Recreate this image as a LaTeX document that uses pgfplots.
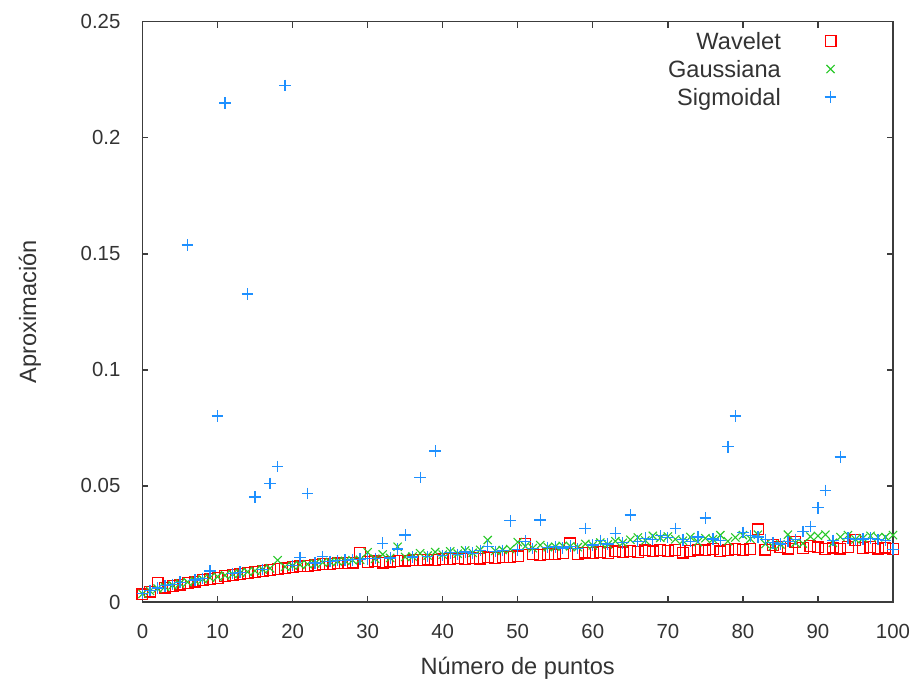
\documentclass[border=0pt]{standalone}
\usepackage{pgfplots}
\usepackage{pgfplotstable}
\pgfplotsset{compat=1.18}
\usepackage{fontspec}
\setmainfont{Liberation Sans}

\definecolor{gpred}{RGB}{255,0,0}
\definecolor{gpgreen}{RGB}{40,200,40}
\definecolor{gpblue}{RGB}{30,144,255}
\definecolor{gpaxis}{RGB}{60,60,60}

% x  Wavelet  Gaussiana  Sigmoidal
\pgfplotstableread{
x W G S
0 0.0033 0.0035 0.0036
1 0.0045 0.0048 0.0050
2 0.0081 0.0058 0.0060
3 0.0062 0.0065 0.0070
4 0.0068 0.0072 0.0076
5 0.0075 0.0080 0.0085
6 0.0082 0.0086 0.1538
7 0.0088 0.0092 0.0095
8 0.0094 0.0098 0.0102
9 0.0099 0.0104 0.0134
10 0.0104 0.0109 0.0801
11 0.0112 0.0115 0.2150
12 0.0116 0.0120 0.0122
13 0.0121 0.0125 0.0128
14 0.0126 0.0130 0.1327
15 0.0130 0.0134 0.0452
16 0.0133 0.0140 0.0140
17 0.0138 0.0145 0.0511
18 0.0142 0.0180 0.0583
19 0.0145 0.0152 0.2225
20 0.0150 0.0156 0.0158
21 0.0153 0.0160 0.0192
22 0.0156 0.0163 0.0468
23 0.0160 0.0166 0.0168
24 0.0163 0.0170 0.0195
25 0.0163 0.0172 0.0175
26 0.0166 0.0175 0.0178
27 0.0168 0.0177 0.0180
28 0.0170 0.0180 0.0182
29 0.0212 0.0182 0.0184
30 0.0172 0.0214 0.0186
31 0.0175 0.0186 0.0188
32 0.0170 0.0205 0.0253
33 0.0174 0.0190 0.0190
34 0.0176 0.0238 0.0228
35 0.0178 0.0194 0.0289
36 0.0180 0.0196 0.0194
37 0.0181 0.0210 0.0537
38 0.0183 0.0200 0.0196
39 0.0180 0.0215 0.0650
40 0.0186 0.0204 0.0200
41 0.0184 0.0218 0.0212
42 0.0188 0.0208 0.0205
43 0.0185 0.0222 0.0215
44 0.0190 0.0212 0.0210
45 0.0187 0.0225 0.0222
46 0.0192 0.0267 0.0240
47 0.0190 0.0220 0.0218
48 0.0195 0.0224 0.0222
49 0.0193 0.0228 0.0350
50 0.0196 0.0258 0.0225
51 0.0250 0.0240 0.0262
52 0.0205 0.0232 0.0230
53 0.0203 0.0245 0.0353
54 0.0207 0.0236 0.0235
55 0.0205 0.0238 0.0238
56 0.0210 0.0242 0.0232
57 0.0252 0.0240 0.0240
58 0.0208 0.0236 0.0230
59 0.0213 0.0250 0.0317
60 0.0210 0.0244 0.0245
61 0.0215 0.0256 0.0265
62 0.0212 0.0248 0.0250
63 0.0218 0.0262 0.0296
64 0.0214 0.0255 0.0255
65 0.0220 0.0268 0.0375
66 0.0216 0.0278 0.0262
67 0.0222 0.0265 0.0275
68 0.0218 0.0285 0.0270
69 0.0223 0.0276 0.0285
70 0.0219 0.0282 0.0278
71 0.0225 0.0270 0.0317
72 0.0213 0.0264 0.0268
73 0.0220 0.0280 0.0260
74 0.0226 0.0258 0.0280
75 0.0222 0.0275 0.0362
76 0.0227 0.0270 0.0272
77 0.0218 0.0288 0.0265
78 0.0225 0.0262 0.0669
79 0.0228 0.0278 0.0801
80 0.0224 0.0288 0.0300
81 0.0229 0.0272 0.0285
82 0.0313 0.0290 0.0280
83 0.0226 0.0250 0.0270
84 0.0245 0.0240 0.0255
85 0.0236 0.0248 0.0250
86 0.0230 0.0290 0.0260
87 0.0258 0.0255 0.0270
88 0.0232 0.0252 0.0303
89 0.0240 0.0282 0.0325
90 0.0235 0.0285 0.0406
91 0.0228 0.0290 0.0481
92 0.0234 0.0255 0.0265
93 0.0230 0.0280 0.0625
94 0.0236 0.0288 0.0275
95 0.0268 0.0270 0.0268
96 0.0232 0.0275 0.0272
97 0.0236 0.0285 0.0275
98 0.0230 0.0278 0.0270
99 0.0234 0.0280 0.0265
100 0.0227 0.0288 0.0227
}\datatable

\begin{document}
\begin{tikzpicture}
\begin{axis}[
  scale only axis,
  width=375.25pt,
  height=290.15pt,
  xmin=0, xmax=100,
  ymin=0, ymax=0.25,
  xtick={0,10,...,100},
  ytick={0,0.05,0.1,0.15,0.2,0.25},
  scaled y ticks=false,
  y tick label style={/pgf/number format/fixed,/pgf/number format/precision=2},
  /pgf/number format/assume math mode=true,
  tick label style={font=\fontsize{10.2}{12}\selectfont, text=black!80},
  label style={font=\fontsize{11.8}{14}\selectfont, text=black!80},
  tick align=inside,
  major tick length=3pt,
  minor tick num=0,
  axis line style={gpaxis, line width=0.7pt},
  every tick/.style={gpaxis, line width=0.7pt},
  xticklabel style={yshift=-7.5pt},
  yticklabel style={xshift=-7.5pt},
  xlabel={Número de puntos},
  ylabel={Aproximación},
  xlabel style={at={(axis description cs:0.5,-0.115)}, anchor=center},
  ylabel style={at={(axis description cs:-0.15,0.5)}, anchor=center},
  legend plot pos=right,
  legend cell align=right,
  legend image code/.code={\path (0pt,0pt);\draw[#1] plot coordinates {(23pt,1.3pt)};},
  legend style={draw=none, fill=none, inner sep=0pt, at={(rel axis cs:0.925,0.987)}, anchor=north east,
    font=\fontsize{11.8}{14}\selectfont, text=black!80,
    nodes={text height=8.5pt, text depth=2.5pt, inner sep=1.5pt},
    /tikz/every even column/.append style={column sep=0pt}},
]
\addplot[only marks, gpred, mark=square, mark size=2.7pt, line width=0.6pt]
  table[x=x, y=W] {\datatable};
\addlegendentry{Wavelet}
\addplot[only marks, gpgreen, mark=x, mark size=2.9pt, line width=0.55pt]
  table[x=x, y=G] {\datatable};
\addlegendentry{Gaussiana}
\addplot[only marks, gpblue, mark=+, mark size=2.9pt, line width=0.65pt]
  table[x=x, y=S] {\datatable};
\addlegendentry{Sigmoidal}
\coordinate (sw) at (rel axis cs:0,0);
\coordinate (ne) at (rel axis cs:1,1);
\end{axis}
\pgfresetboundingbox
\path[use as bounding box] ([shift={(-71.25pt,-40.5pt)}]sw) rectangle ([shift={(12pt,10.85pt)}]ne);
\end{tikzpicture}
\end{document}
